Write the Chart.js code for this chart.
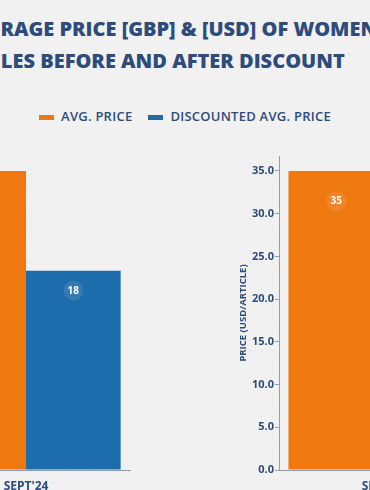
<!DOCTYPE html>
<html>
<head>
<meta charset="utf-8">
<title>Average price before and after discount</title>
<script src="https://cdn.jsdelivr.net/npm/chart.js@4.4.0/dist/chart.umd.min.js"></script>
<style>
    html, body {
        margin: 0;
        padding: 0;
    }
    body {
        width: 370px;
        height: 490px;
        overflow: hidden;
        position: relative;
        background-color: #f1f1f1;
        background-image: radial-gradient(circle, #e4e4e4 0.8px, transparent 1.2px);
        background-size: 11px 11px;
        background-position: 3px 4px;
        font-family: 'Open Sans', sans-serif;
        color: #2d4b7b;
    }
    .title {
        position: absolute;
        white-space: nowrap;
        font-weight: 800;
        font-size: 20px;
        line-height: 1;
    }
    #legend {
        position: absolute;
        top: 110px;
        left: 0;
        width: 370px;
        display: flex;
        justify-content: center;
        gap: 16px;
        font-size: 13px;
        font-weight: 600;
        letter-spacing: 0.25px;
        line-height: 1;
    }
    .legend-item {
        display: flex;
        align-items: center;
        gap: 7px;
    }
    .swatch {
        width: 15px;
        height: 5px;
        position: relative;
        top: 1px;
    }
    .chart-box {
        position: absolute;
        top: 140px;
        height: 350px;
    }
</style>
</head>
<body>

<div class="title" id="title-1" style="top:19px"><span class="cut">AVE</span>RAGE PRICE [GBP] &amp; [USD] OF WOMEN'S</div>
<div class="title" id="title-2" style="top:51px"><span class="cut">ARTIC</span>LES BEFORE AND AFTER DISCOUNT</div>

<div id="legend"></div>

<div class="chart-box" style="left:-130px; width:265px;"><canvas id="gbp-chart"></canvas></div>
<div class="chart-box" style="left:238px; width:262px;"><canvas id="usd-chart"></canvas></div>

<script>
// Data
const categories = ["SEPT'24"];
const seriesLabels = ['AVG. PRICE', 'DISCOUNTED AVG. PRICE'];
const seriesColors = ['#f07810', '#1d6cab'];

const gbpAvg = [27];
const gbpDiscounted = [18];
const gbpTicks = [0, 5, 10, 15, 20, 25];

const usdAvg = [35];
const usdDiscounted = [23];
const usdTicks = [0, 5, 10, 15, 20, 25, 30, 35];

const TEXT_COLOR = '#2d4b7b';
const AXIS_COLOR = '#8d9db6';
const FONT = "'Open Sans', sans-serif";

// Shift the title lines so the visible part lines up with the left edge
function placeTitle(id, visibleLeft) {
    const el = document.getElementById(id);
    const cut = el.querySelector('.cut');
    el.style.left = (visibleLeft - cut.offsetWidth) + 'px';
}

// Legend
function buildLegend() {
    const legend = document.getElementById('legend');
    seriesLabels.forEach((label, i) => {
        const item = document.createElement('div');
        item.className = 'legend-item';
        const sw = document.createElement('span');
        sw.className = 'swatch';
        sw.style.background = seriesColors[i];
        const txt = document.createElement('span');
        txt.textContent = label;
        item.appendChild(sw);
        item.appendChild(txt);
        legend.appendChild(item);
    });
}

// Value badges drawn inside the bars, 10% below the top
const valueBadges = {
    id: 'valueBadges',
    afterDatasetsDraw(chart) {
        const ctx = chart.ctx;
        chart.data.datasets.forEach((ds, i) => {
            chart.getDatasetMeta(i).data.forEach((bar, j) => {
                const y = bar.y + (bar.base - bar.y) * 0.1;
                ctx.save();
                ctx.beginPath();
                ctx.arc(bar.x, y, 10, 0, Math.PI * 2);
                ctx.fillStyle = 'rgba(255, 255, 255, 0.1)';
                ctx.fill();
                ctx.fillStyle = '#ffffff';
                ctx.font = 'bold 10px ' + FONT;
                ctx.textAlign = 'center';
                ctx.textBaseline = 'middle';
                ctx.fillText(String(ds.data[j]), bar.x, y + 0.5);
                ctx.restore();
            });
        });
    }
};

function makeChart(canvasId, avg, discounted, tickValues, yTitle, yWidth, padRight) {
    const ctx = document.getElementById(canvasId).getContext('2d');
    return new Chart(ctx, {
        type: 'bar',
        data: {
            labels: categories,
            datasets: [
                {
                    label: seriesLabels[0],
                    data: avg,
                    backgroundColor: seriesColors[0],
                    borderWidth: 0
                },
                {
                    label: seriesLabels[1],
                    data: discounted,
                    backgroundColor: seriesColors[1],
                    borderWidth: 0
                }
            ]
        },
        options: {
            responsive: true,
            maintainAspectRatio: false,
            animation: false,
            categoryPercentage: 0.91,
            barPercentage: 1,
            layout: {
                padding: { top: 16, right: padRight, bottom: 0, left: 0 }
            },
            scales: {
                x: {
                    grid: { display: false },
                    border: { display: true, color: AXIS_COLOR, width: 1 },
                    ticks: {
                        color: TEXT_COLOR,
                        font: { family: FONT, size: 12, weight: 'bold' },
                        padding: 1
                    },
                    afterFit: (s) => { s.height = 20; }
                },
                y: {
                    min: 0,
                    max: avg[0] * 1.05,
                    afterBuildTicks: (s) => {
                        s.ticks = tickValues.map(v => ({ value: v }));
                    },
                    afterFit: (s) => { s.width = yWidth; },
                    grid: {
                        display: true,
                        drawOnChartArea: false,
                        tickLength: 4,
                        color: AXIS_COLOR
                    },
                    border: { display: true, color: AXIS_COLOR, width: 1 },
                    ticks: {
                        color: TEXT_COLOR,
                        font: { family: FONT, size: 11, weight: 'bold' },
                        padding: 1,
                        callback: (v) => Number(v).toFixed(1)
                    },
                    title: {
                        display: true,
                        text: yTitle,
                        color: TEXT_COLOR,
                        font: { family: FONT, size: 9.5, weight: 'bold' },
                        padding: 0
                    }
                }
            },
            plugins: {
                legend: { display: false },
                tooltip: { enabled: false }
            }
        },
        plugins: [valueBadges]
    });
}

buildLegend();
placeTitle('title-1', 0);
placeTitle('title-2', 1);
makeChart('gbp-chart', gbpAvg, gbpDiscounted, gbpTicks, 'PRICE (GBP/ARTICLE)', 52, 5);
makeChart('usd-chart', usdAvg, usdDiscounted, usdTicks, 'PRICE (USD/ARTICLE)', 41, 11);
</script>
</body>
</html>
